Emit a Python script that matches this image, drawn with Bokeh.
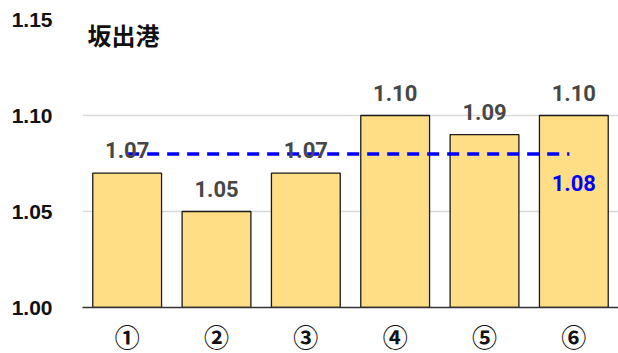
from bokeh.plotting import figure
from bokeh.models import ColumnDataSource, Range1d, FixedTicker, LabelSet, Label, NumeralTickFormatter
from bokeh.core.properties import value
from bokeh.embed import file_html
from bokeh.resources import INLINE

categories = ["①", "②", "③", "④", "⑤", "⑥"]
values = [1.07, 1.05, 1.07, 1.10, 1.09, 1.10]
average = 1.08
title_text = "坂出港"
y_ticks = [1.00, 1.05, 1.10, 1.15]

xs = list(range(1, len(categories) + 1))
src = ColumnDataSource(dict(x=xs, top=values, label=[f"{v:.2f}" for v in values]))

p = figure(frame_width=536, frame_height=288, output_backend="svg", toolbar_location=None,
           x_range=Range1d(0.5, 6.5), y_range=Range1d(1.0, 1.15),
           min_border_left=82, min_border_right=0, min_border_top=19, min_border_bottom=46)
p.outline_line_color = None
p.background_fill_color = "white"

p.vbar(x="x", top="top", bottom=1.0, width=0.77, source=src,
       fill_color="#FFDE85", line_color="#1a1a1a", line_width=1.3)

p.line(x=[xs[0], xs[-1] - 0.05], y=[average, average], line_color="#0000FF",
       line_width=3.5, line_dash="12 8")

labels = LabelSet(x="x", y="top", text="label", source=src, text_align="center",
                  text_baseline="bottom", y_offset=15, text_font=value("Roboto"),
                  text_font_style=value("bold"),
                  text_font_size=value("22px"), text_color="#474747")
p.add_layout(labels)

p.add_layout(Label(x=xs[-1], y=average, text=f"{average:.2f}", text_align="center",
                   text_baseline="top", y_offset=-21, text_font="Roboto",
                   text_font_style="bold", text_font_size="22px", text_color="#0000FF"))

p.add_layout(Label(x=0.5, y=1.15, text=title_text, x_offset=5, y_offset=-15,
                   text_font="Noto Sans CJK JP", text_font_style="bold",
                   text_font_size="24px", text_color="#111111", text_baseline="middle"))

p.xaxis.ticker = FixedTicker(ticks=xs)
p.xaxis.major_label_overrides = {x: c for x, c in zip(xs, categories)}
p.xaxis.major_label_text_font = "Noto Sans CJK JP"
p.xaxis.major_label_text_font_size = "25px"
p.xaxis.major_label_text_font_style = "bold"
p.xaxis.major_label_text_color = "#111111"
p.xaxis.major_label_standoff = 10
p.xaxis.major_tick_out = 0
p.xaxis.major_tick_in = 0
p.xaxis.major_tick_line_color = None
p.xaxis.minor_tick_line_color = None
p.xaxis.axis_line_color = "#333333"
p.xaxis.axis_line_width = 1.5

p.yaxis.ticker = FixedTicker(ticks=y_ticks)
p.yaxis.formatter = NumeralTickFormatter(format="0.00")
p.yaxis.major_label_text_font = "Liberation Sans"
p.yaxis.major_label_text_font_style = "bold"
p.yaxis.major_label_text_font_size = "21px"
p.yaxis.major_label_text_color = "#111111"
p.yaxis.major_label_standoff = 30
p.yaxis.major_tick_out = 0
p.yaxis.major_tick_in = 0
p.yaxis.major_tick_line_color = None
p.yaxis.minor_tick_line_color = None
p.yaxis.axis_line_color = None

p.xgrid.grid_line_color = None
p.ygrid.ticker = FixedTicker(ticks=y_ticks[1:])
p.ygrid.grid_line_color = "#d9d9d9"
p.ygrid.grid_line_width = 1.5

open("out.html", "w").write(file_html(p, INLINE))
